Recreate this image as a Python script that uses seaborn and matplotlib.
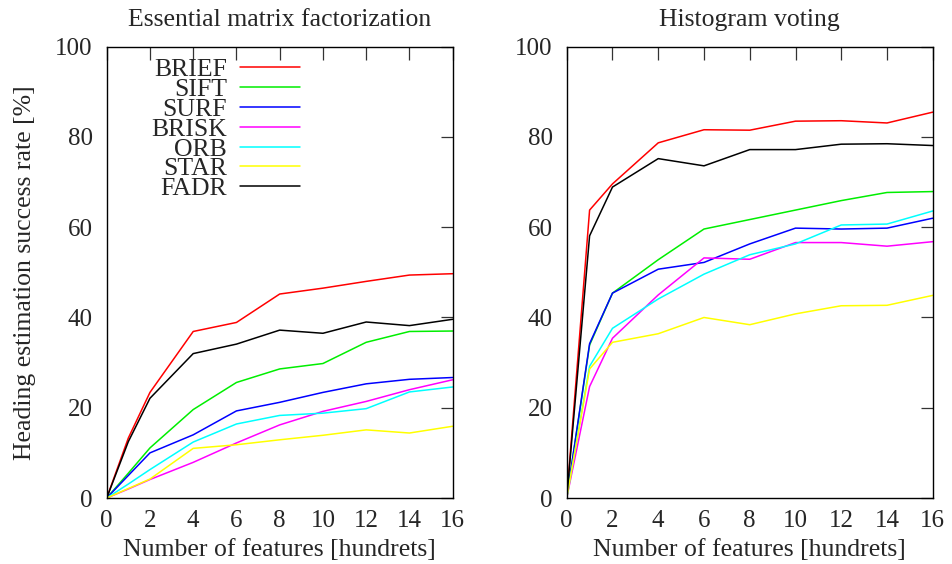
import pandas as pd
import numpy as np
import matplotlib
matplotlib.use("Agg")
import matplotlib.pyplot as plt
import seaborn as sns

# ── Data ──
FEATURES = [0, 1, 2, 4, 6, 8, 10, 12, 14, 16]   # hundreds of features
METHODS = ["BRIEF", "SIFT", "SURF", "BRISK", "ORB", "STAR", "FADR"]
METHOD_COLORS = {
    "BRIEF": "#ff0000",
    "SIFT": "#00ee00",
    "SURF": "#0000ff",
    "BRISK": "#ff00ff",
    "ORB": "#00ffff",
    "STAR": "#ffff00",
    "FADR": "#000000",
}

# Essential matrix factorization
essential_brief = [0, 13.3, 23.4, 36.9, 38.9, 45.2, 46.5, 48.0, 49.4, 49.7]
essential_sift = [0, 5.5, 11.1, 19.6, 25.6, 28.6, 29.8, 34.5, 36.9, 37.0]
essential_surf = [0, 5.0, 10.0, 14.0, 19.3, 21.2, 23.4, 25.3, 26.3, 26.7]
essential_brisk = [0, 2.0, 4.1, 7.9, 12.2, 16.2, 19.2, 21.4, 24.0, 26.2]
essential_orb = [0, 3.1, 6.3, 12.4, 16.4, 18.3, 18.8, 19.8, 23.5, 24.6]
essential_star = [0, 2.1, 4.2, 11.0, 11.8, 12.9, 13.9, 15.1, 14.4, 15.9]
essential_fadr = [0, 12.5, 22.1, 32.0, 34.1, 37.2, 36.5, 39.0, 38.2, 39.6]

# Histogram voting
histogram_brief = [0, 63.8, 69.6, 78.7, 81.6, 81.5, 83.5, 83.6, 83.1, 85.5]
histogram_sift = [0, 33.9, 45.4, 52.8, 59.6, 61.7, 63.8, 65.9, 67.7, 67.9]
histogram_surf = [0, 34.2, 45.4, 50.7, 52.2, 56.3, 59.8, 59.6, 59.8, 62.0]
histogram_brisk = [0, 24.7, 35.4, 45.0, 53.2, 52.9, 56.6, 56.6, 55.8, 56.8]
histogram_orb = [0, 29.2, 37.6, 44.1, 49.6, 53.9, 56.3, 60.5, 60.7, 63.6]
histogram_star = [0, 28.6, 34.5, 36.4, 40.0, 38.4, 40.8, 42.6, 42.7, 44.9]
histogram_fadr = [0, 58.1, 68.9, 75.2, 73.6, 77.2, 77.2, 78.4, 78.5, 78.1]


def to_long(series: dict) -> pd.DataFrame:
    """Stack per-method lists into one long table for seaborn."""
    frames = [pd.DataFrame({"features": FEATURES, "rate": vals, "method": name})
              for name, vals in series.items()]
    return pd.concat(frames, ignore_index=True)


essential_df = to_long(dict(zip(METHODS, [
    essential_brief, essential_sift, essential_surf, essential_brisk,
    essential_orb, essential_star, essential_fadr])))
histogram_df = to_long(dict(zip(METHODS, [
    histogram_brief, histogram_sift, histogram_surf, histogram_brisk,
    histogram_orb, histogram_star, histogram_fadr])))

sns.set_style("white")
plt.rcParams["font.family"] = ["Liberation Serif", "DejaVu Serif"]

fig = plt.figure(figsize=(9.52, 5.64), dpi=100)
ax_left = fig.add_axes([0.1121, 0.117, 0.3634, 0.8002])
ax_right = fig.add_axes([0.5953, 0.117, 0.3845, 0.8002])

FS = 18.5
TICK_FS = 18
for ax, df, title in [(ax_left, essential_df, "Essential matrix factorization"),
                      (ax_right, histogram_df, "Histogram voting")]:
    sns.lineplot(data=df, x="features", y="rate", hue="method",
                 hue_order=METHODS, palette=METHOD_COLORS, linewidth=1.1,
                 legend=(ax is ax_left), ax=ax)
    ax.set_xlim(0, 16)
    ax.set_ylim(0, 100)
    ax.set_xticks(range(0, 17, 2))
    ax.set_yticks(range(0, 101, 20))
    ax.tick_params(direction="in", length=9, width=0.9, labelsize=TICK_FS,
                   top=True, right=True, color="#333333")
    ax.tick_params(axis="y", pad=10)
    ax.tick_params(axis="x", pad=8.5)
    for spine in ax.spines.values():
        spine.set_visible(True)
        spine.set_color("black")
        spine.set_linewidth(1.0)
    ax.set_xlabel("Number of features [hundrets]", fontsize=FS, labelpad=5)
    ax.set_ylabel("")
    ax.set_title(title, fontsize=FS, pad=15)

ax_left.set_ylabel("Heading estimation success rate [%]", fontsize=FS, labelpad=14)

handles, labels = ax_left.get_legend_handles_labels()
ax_left.legend(handles, labels, loc="upper right",
               bbox_to_anchor=(0.559, 0.975), frameon=False, markerfirst=False,
               fontsize=FS, handlelength=2.35, handletextpad=0.5,
               labelspacing=-0.12, borderpad=0, borderaxespad=0)

fig.savefig("out.png", dpi=100)
